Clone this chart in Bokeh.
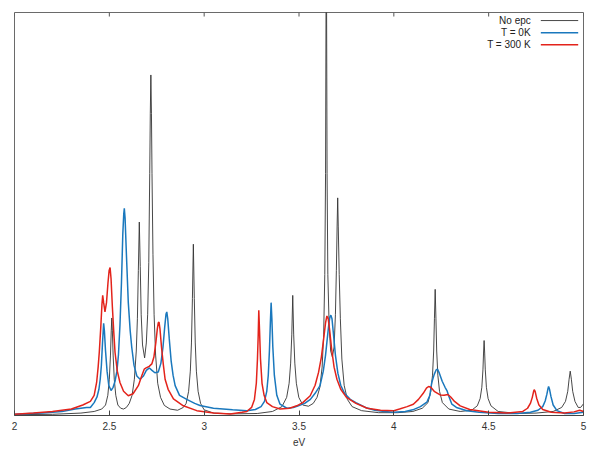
from bokeh.plotting import figure
from bokeh.models import Range1d, FixedTicker, Label, ColumnDataSource
from bokeh.embed import file_html
from bokeh.resources import INLINE

# spectra (eV, intensity in % of frame height)
no_epc_ev = [2.00, 2.20, 2.35, 2.42, 2.46, 2.48, 2.492, 2.500, 2.506, 2.510, 2.513, 2.516, 2.520, 2.526, 2.534,
             2.545, 2.56, 2.575, 2.59, 2.605, 2.620, 2.632, 2.642, 2.648, 2.653, 2.658, 2.663, 2.668, 2.675,
             2.686, 2.695, 2.702, 2.708, 2.713, 2.716, 2.719, 2.722, 2.725, 2.730, 2.736, 2.744, 2.755, 2.770,
             2.79, 2.82, 2.86, 2.89, 2.905, 2.918, 2.927, 2.933, 2.938, 2.943, 2.948, 2.953, 2.959, 2.968,
             2.981, 3.00, 3.05, 3.15, 3.28, 3.36, 3.41, 3.435, 3.448, 3.456, 3.462, 3.467, 3.472, 3.478, 3.486,
             3.499, 3.52, 3.55, 3.575, 3.595, 3.61, 3.622, 3.630, 3.636, 3.640, 3.644, 3.648, 3.652, 3.659,
             3.667, 3.676, 3.685, 3.692, 3.697, 3.701, 3.704, 3.707, 3.712, 3.718, 3.726, 3.738, 3.755, 3.78,
             3.83, 3.92, 4.02, 4.10, 4.15, 4.18, 4.195, 4.204, 4.210, 4.214, 4.218, 4.222, 4.226, 4.232, 4.241,
             4.256, 4.29, 4.35, 4.41, 4.44, 4.455, 4.464, 4.470, 4.473, 4.476, 4.479, 4.482, 4.488, 4.497,
             4.512, 4.55, 4.65, 4.75, 4.84, 4.885, 4.905, 4.917, 4.924, 4.930, 4.936, 4.943, 4.955, 4.972,
             4.985, 4.995, 5.00]
no_epc_val = [0.2, 0.3, 0.6, 1.0, 1.6, 2.6, 5, 9, 15, 21, 24.2, 21, 15, 9, 5,
              2.6, 1.8, 1.6, 2.0, 3.0, 5.0, 9, 16, 24, 36, 48, 37, 25, 17.5,
              14.3, 18, 25, 38, 60, 75, 84.5, 75, 60, 40, 25, 15, 8, 4.5,
              2.5, 1.6, 1.3, 2.0, 3.0, 6, 11, 18, 29, 42.5, 29, 18, 11, 6,
              3.0, 1.4, 0.6, 0.4, 0.5, 1.0, 2.2, 4.5, 8, 13, 20, 29.8, 20, 13, 8,
              4.5, 2.6, 2.3, 3.0, 4.5, 7, 12, 20, 35, 60, 125, 60, 35, 22,
              16, 14.5, 17, 25, 36, 47, 54, 47, 35, 24, 14, 7.5, 4, 2.2,
              1.2, 0.7, 0.7, 1.0, 1.8, 3.2, 6, 10, 16, 24, 31.3, 24, 16, 10, 6,
              3.2, 1.6, 1.0, 1.3, 2.4, 4.2, 7, 11.5, 15.5, 18.6, 15.5, 11.5, 7, 4.2,
              2.4, 1.0, 0.5, 0.6, 1.0, 2.0, 3.5, 6, 9, 11.0, 9, 6, 3.5, 2.0,
              2.0, 2.6, 2.9]

t0_ev = [2.00, 2.15, 2.25, 2.32, 2.38, 2.40, 2.42, 2.435, 2.445, 2.452, 2.458, 2.464, 2.470, 2.474, 2.480,
         2.488, 2.497, 2.509, 2.520, 2.530, 2.540, 2.548, 2.556, 2.564, 2.571, 2.576, 2.579, 2.583, 2.590,
         2.600, 2.610, 2.618, 2.630, 2.645, 2.662, 2.680, 2.695, 2.711, 2.725, 2.740, 2.758, 2.772, 2.783,
         2.792, 2.799, 2.803, 2.808, 2.816, 2.826, 2.836, 2.847, 2.870, 2.908, 2.950, 2.978, 3.049, 3.15,
         3.225, 3.27, 3.30, 3.318, 3.330, 3.338, 3.344, 3.349, 3.353, 3.357, 3.362, 3.370, 3.383, 3.400,
         3.436, 3.470, 3.497, 3.53, 3.56, 3.585, 3.611, 3.628, 3.640, 3.650, 3.658, 3.663, 3.668, 3.674,
         3.682, 3.692, 3.705, 3.72, 3.74, 3.77, 3.80, 3.85, 3.90, 3.95, 4.00, 4.06, 4.10, 4.14, 4.174,
         4.19, 4.20, 4.213, 4.223, 4.230, 4.240, 4.255, 4.270, 4.280, 4.290, 4.306, 4.33, 4.385, 4.45,
         4.55, 4.65, 4.72, 4.76, 4.785, 4.798, 4.807, 4.812, 4.816, 4.821, 4.828, 4.840, 4.860, 4.90,
         4.95, 5.00]
t0_val = [0.3, 0.6, 1.0, 1.6, 2.0, 2.0, 3.2, 4.6, 6.5, 9, 12.4, 18, 22.9, 21, 16,
          11, 7.5, 6.2, 7, 8.5, 11, 15, 22.4, 33, 45, 50, 51.4, 49, 40,
          28, 21, 17, 12.5, 9.8, 9, 9.8, 11.2, 11.8, 11.2, 10.6, 10.8, 13, 17,
          22, 25.2, 25.7, 24, 19, 13.5, 10, 7.4, 5.0, 4.0, 3.0, 2.5, 1.8, 1.4,
          1.2, 1.5, 2.2, 3.5, 6, 10, 16, 23, 28, 24, 17, 10, 5, 2.8,
          1.8, 2.0, 2.4, 3.0, 4.0, 5.5, 7.4, 11, 15, 19.5, 23, 24.5, 24.9, 24,
          20, 15, 10.5, 7.5, 5.5, 4, 3.2, 2.0, 1.3, 1.0, 0.8, 1.0, 1.4, 2.2, 3.3,
          5, 8.2, 10.2, 11.3, 11.5, 10.5, 8.5, 7, 6.2, 4.8, 2.8, 2.0, 1.2, 0.8,
          0.5, 0.5, 0.8, 1.3, 2.2, 3.6, 5.3, 6.5, 7.2, 6.5, 4.8, 2.6, 1.2, 0.5,
          0.5, 0.8]

t300_ev = [2.00, 2.10, 2.20, 2.30, 2.36, 2.40, 2.42, 2.433, 2.441, 2.447, 2.455, 2.461, 2.465, 2.470, 2.477,
           2.485, 2.493, 2.499, 2.504, 2.509, 2.516, 2.523, 2.530, 2.542, 2.556, 2.575, 2.600, 2.625, 2.653,
           2.672, 2.684, 2.694, 2.710, 2.724, 2.735, 2.745, 2.753, 2.758, 2.762, 2.767, 2.775, 2.785, 2.794,
           2.810, 2.838, 2.890, 2.961, 3.05, 3.137, 3.20, 3.225, 3.250, 3.265, 3.275, 3.281, 3.285, 3.288,
           3.292, 3.297, 3.305, 3.316, 3.330, 3.360, 3.400, 3.45, 3.488, 3.520, 3.559, 3.585, 3.603, 3.618,
           3.630, 3.640, 3.647, 3.654, 3.662, 3.672, 3.685, 3.700, 3.72, 3.75, 3.80, 3.86, 3.93, 4.00, 4.03,
           4.07, 4.103, 4.13, 4.155, 4.172, 4.183, 4.195, 4.215, 4.244, 4.265, 4.285, 4.300, 4.320, 4.350,
           4.40, 4.50, 4.60, 4.68, 4.705, 4.720, 4.730, 4.737, 4.740, 4.745, 4.753, 4.765, 4.785, 4.83,
           4.90, 4.95, 4.98, 5.00]
t300_val = [0.3, 0.6, 1.0, 1.6, 2.6, 3.5, 5, 8.2, 12, 15.7, 22, 27.5, 29.8, 28, 25.7,
            28, 33, 36, 36.7, 34, 27, 21, 15.7, 11, 8.2, 6, 4.9, 5.4, 7.4,
            10, 11.5, 11.8, 12.2, 12.8, 14.5, 18, 21.5, 23, 23.2, 21.5, 17, 12.5, 9,
            6.5, 4.1, 2.4, 1.2, 0.6, 0.4, 0.8, 1.0, 2.0, 4, 8, 14, 20, 26.1,
            21, 14, 8, 5, 3.2, 2.2, 1.6, 1.8, 2.4, 3.2, 4.9, 7.5, 10.7, 14.5,
            19, 23, 24.7, 24, 21, 16.5, 12, 9, 6.5, 4.5, 3.0, 1.8, 1.3, 1.2, 1.6,
            2.2, 2.8, 4, 5.5, 6.8, 7.2, 7.0, 5.9, 5.1, 5.0, 5.2, 4.6, 3.5, 2.4,
            1.5, 0.8, 0.6, 1.0, 1.8, 3.0, 4.5, 6, 6.4, 6, 4.3, 2.6, 1.5, 0.8,
            0.6, 0.9, 1.3, 1.0]

series_names = ["No epc", "T = 0K", "T = 300 K"]
series_colors = ["#333333", "#1a78bd", "#e3231b"]
series_widths = [0.9, 1.5, 1.5]

tick_values = [2, 2.5, 3, 3.5, 4, 4.5, 5]
tick_labels = ["2", "2.5", "3", "3.5", "4", "4.5", "5"]

FONT = "Liberation Sans"

p = figure(width=592, height=450, output_backend="svg", toolbar_location=None,
           x_range=Range1d(2, 5), y_range=Range1d(0, 100),
           min_border_left=14, min_border_right=9, min_border_top=12, min_border_bottom=0)
p.grid.visible = False
p.yaxis.visible = False
p.outline_line_color = "#6a6a6a"
p.outline_line_width = 1
p.background_fill_color = "white"

xa = p.xaxis[0]
xa.ticker = FixedTicker(ticks=tick_values)
xa.major_label_overrides = dict(zip(tick_values, tick_labels))
xa.major_tick_in = 5
xa.major_tick_out = 0
xa.minor_tick_line_color = None
xa.axis_line_color = "#444444"
xa.major_tick_line_color = "#444444"
xa.major_label_text_font = FONT
xa.major_label_text_font_size = "10px"
xa.major_label_text_color = "#333333"
xa.major_label_standoff = 6
xa.axis_label = "eV"
xa.axis_label_text_font = FONT
xa.axis_label_text_font_size = "10px"
xa.axis_label_text_font_style = "normal"
xa.axis_label_text_color = "#333333"
xa.axis_label_standoff = 4

# mirrored tick marks on the top border (gnuplot style)
p.segment(x0=tick_values, y0=[100] * len(tick_values), x1=tick_values, y1=[99] * len(tick_values),
          line_color="#555555", line_width=1)

curves = [(no_epc_ev, no_epc_val), (t0_ev, t0_val), (t300_ev, t300_val)]
for (xs, ys), name, col, lw in zip(curves, series_names, series_colors, series_widths):
    src = ColumnDataSource(data=dict(x=xs, y=ys))
    p.line("x", "y", source=src, line_color=col, line_width=lw)

# gnuplot style key: text on the left, line sample on the right
for i, (name, col, lw) in enumerate(zip(series_names, series_colors, series_widths)):
    ky = 98.0 - 3.0 * i
    p.add_layout(Label(x=4.722, y=ky, text=name, text_align="right", text_baseline="middle",
                       text_font=FONT, text_font_size="10px", text_color="#222222"))
    p.segment(x0=[4.775], y0=[ky], x1=[4.972], y1=[ky], line_color=col, line_width=lw)

open("out.html", "w").write(file_html(p, INLINE))
